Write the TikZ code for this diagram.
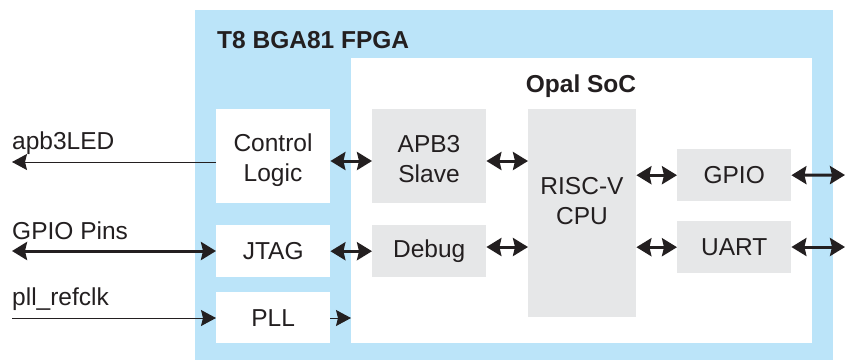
\documentclass[tikz,border=0pt]{standalone}
\usepackage{fontspec}
\setmainfont{Liberation Sans}
\usetikzlibrary{arrows.meta}
\definecolor{fpgablue}{RGB}{187,228,249}
\definecolor{boxgray}{RGB}{230,231,232}
\definecolor{ink}{RGB}{35,31,32}
\begin{document}
\begin{tikzpicture}[x=1pt,y=-1pt,
  lbl/.style={font=\fontsize{24.5}{29.5}\selectfont, text=ink},
  ttl/.style={font=\fontsize{24.5}{29.5}\selectfont\bfseries, text=ink},
  wbox/.style={fill=white, draw=none, lbl, align=center, inner sep=0pt, anchor=north west},
  gbox/.style={fill=boxgray, draw=none, lbl, align=center, inner sep=0pt, anchor=north west},
  thinarr/.style={draw=ink, line width=1pt, -{Stealth[length=15pt,width=16pt,inset=2pt]}},
  bus/.style={draw=ink, line width=3pt, {Stealth[length=15pt,width=18pt,inset=2pt]}-{Stealth[length=15pt,width=18pt,inset=2pt]}}
]
\useasboundingbox (0,0) rectangle (845,360);
% FPGA region
\node[fill=fpgablue, inner sep=0pt, minimum width=638pt, minimum height=350pt, anchor=north west] (fpga) at (195,10) {};
\node[ttl, anchor=base west, inner sep=0pt] (fpgat) at (217,48) {T8 BGA81 FPGA};
% SoC region
\node[fill=white, inner sep=0pt, minimum width=461pt, minimum height=285pt, anchor=north west] (soc) at (351,58) {};
\node[ttl, anchor=base, inner sep=0pt] (soct) at (581,92) {Opal SoC};
% blocks
\node[wbox, minimum width=114pt, minimum height=94pt] (ctrl) at (216,109) {};
\node[lbl, align=center, inner sep=0pt] (ctrlt) at (273,160) {Control\\Logic};
\node[wbox, minimum width=114pt, minimum height=52pt] (jtag) at (216,225) {JTAG};
\node[wbox, minimum width=114pt, minimum height=51pt] (pll) at (216,292) {PLL};
\node[gbox, minimum width=114pt, minimum height=94pt] (apb) at (372,109) {};
\node[lbl, align=center, inner sep=0pt] (apbt) at (429,159) {APB3\\Slave};
\node[gbox, minimum width=114pt, minimum height=52pt] (dbg) at (372,225) {Debug};
\node[gbox, minimum width=108pt, minimum height=208pt] (cpu) at (528,109) {};
\node[lbl, align=center, inner sep=0pt] (cput) at (582,201) {RISC-V\\CPU};
\node[gbox, minimum width=114pt, minimum height=52pt] (gpio) at (677,149) {GPIO};
\node[gbox, minimum width=114pt, minimum height=52pt] (uart) at (677,221) {UART};
% external labels
\node[lbl, anchor=base west, inner sep=0pt] (apbl) at (12,149) {apb3LED};
\node[lbl, anchor=base west, inner sep=0pt] (gpl) at (12,239) {GPIO Pins};
\node[lbl, anchor=base west, inner sep=0pt] (plll) at (12,305) {pll\_refclk};
% free ends
\coordinate (apbL) at (12,162);
\coordinate (gpL) at (12,251);
\coordinate (pllL) at (12,318);
\coordinate (gpioR) at (845,175);
\coordinate (uartR) at (845,247);
\coordinate (r1) at (0,161);
\coordinate (r2) at (0,247);
% connectors
\draw[thinarr] (apbL -| ctrl.west) -- (apbL);
\draw[bus] (gpL) -- (gpL -| jtag.west);
\draw[thinarr] (pllL) -- (pllL -| pll.west);
\draw[thinarr] (pllL -| pll.east) -- (pllL -| soc.west);
\draw[bus] (r1 -| ctrl.east) -- (r1 -| apb.west);
\draw[bus] (jtag.east) -- (dbg.west);
\draw[bus] (r1 -| apb.east) -- (r1 -| cpu.west);
\draw[bus] (r2 -| dbg.east) -- (r2 -| cpu.west);
\draw[bus] (cpu.east |- gpio.west) -- (gpio.west);
\draw[bus] (cpu.east |- uart.west) -- (uart.west);
\draw[bus] (gpio.east) -- (gpioR);
\draw[bus] (uart.east |- uartR) -- (uartR);
\end{tikzpicture}
\end{document}
